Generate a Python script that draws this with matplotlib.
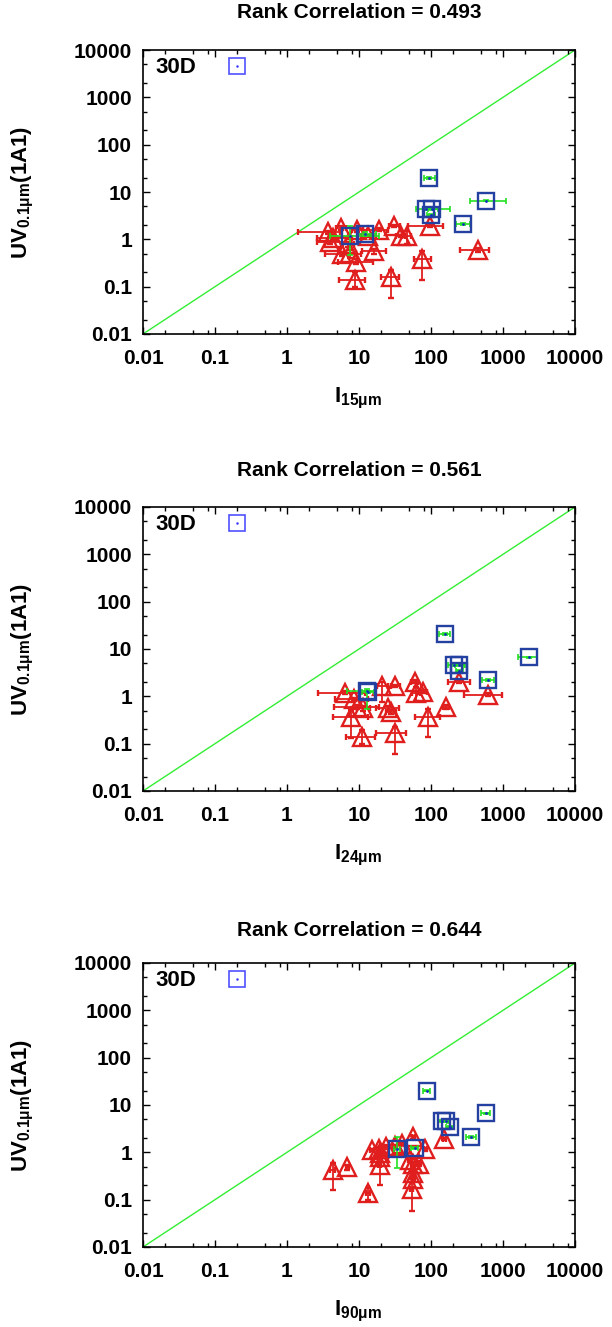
import matplotlib
matplotlib.use('Agg')
import matplotlib.pyplot as plt
import matplotlib.ticker as mticker
import numpy as np

plt.rcParams['font.family'] = ['Liberation Sans', 'DejaVu Sans']
plt.rcParams['font.weight'] = 'bold'
plt.rcParams['mathtext.fontset'] = 'custom'
plt.rcParams['mathtext.rm'] = 'Liberation Sans:bold'
plt.rcParams['mathtext.it'] = 'Liberation Sans:bold'
plt.rcParams['mathtext.bf'] = 'Liberation Sans:bold'
plt.rcParams['mathtext.default'] = 'rm'

# ---- panel 1 : I15um ----
p1_tri_x   = [3.75, 5.6, 9.5, 19, 31, 46, 38, 97, 446, 75, 27.6, 8.8, 16.2, 9.0, 5.75, 4.4, 7.5, 3.95, 7.1, 13.5]
p1_tri_y   = [1.4, 1.74, 1.6, 1.6, 1.95, 1.2, 1.17, 1.95, 0.6, 0.385, 0.16, 0.136, 0.56, 0.34, 0.5, 1.07, 0.51, 0.86, 0.79, 1.17]
p1_tri_xlo = [1.44, 4.8, 8.0, 11.5, 26, 40, 33, 48, 250, 58, 20, 5.2, 10.9, 5.1, 3.4, 2.6, 6.2, 2.6, 5.8, 10.5]
p1_tri_xhi = [5.4, 6.5, 11.5, 25.6, 37, 53, 44, 145, 630, 100, 36, 12, 23.7, 15.5, 10.5, 8.0, 9.0, 6.5, 8.5, 17]
p1_tri_ylo = [1.3, 1.6, 1.45, 1.5, 1.85, 0.8, 1.1, 1.85, 0.55, 0.136, 0.058, 0.1, 0.5, 0.3, 0.45, 1.0, 0.4, 0.8, 0.7, 1.1]
p1_tri_yhi = [1.5, 1.9, 1.75, 1.7, 2.05, 1.5, 1.25, 2.05, 0.65, 0.56, 0.23, 0.2, 0.62, 0.38, 0.55, 1.15, 0.6, 0.92, 0.88, 1.25]
p1_sq_x   = [95, 575, 84, 102, 100, 275, 7.5, 12.1]
p1_sq_y   = [19.7, 6.5, 4.4, 4.4, 3.3, 2.1, 1.2, 1.3]
p1_sq_xlo = [81, 347, 62, 90, 88, 224, 4.0, 9.5]
p1_sq_xhi = [114, 1100, 186, 125, 115, 347, 18.7, 17]
p1_sq_ylo = [19, 6.3, 4.2, 4.2, 3.1, 2.0, 0.475, 1.2]
p1_sq_yhi = [20.5, 6.7, 4.6, 4.6, 3.5, 2.2, 1.88, 1.4]

# ---- panel 2 : I24um ----
p2_tri_x   = [6.4, 8.4, 9.3, 7.7, 10.9, 11.5, 21, 32, 59, 62, 77, 25, 28, 32, 90, 160, 245, 612]
p2_tri_y   = [1.2, 0.86, 0.6, 0.37, 0.14, 0.56, 1.65, 1.65, 2.04, 1.17, 1.25, 0.56, 0.47, 0.165, 0.37, 0.6, 2.04, 1.07]
p2_tri_xlo = [2.7, 4.7, 4.5, 4.4, 6.5, 9.5, 18, 28, 52, 55, 68, 17.5, 24, 17.5, 59, 145, 170, 290]
p2_tri_xhi = [12, 13.5, 19, 13.5, 16.5, 14, 25, 37, 67, 70, 87, 36, 33, 45, 134, 178, 350, 960]
p2_tri_ylo = [1.1, 0.8, 0.55, 0.13, 0.1, 0.5, 0.75, 1.55, 1.9, 0.8, 1.15, 0.5, 0.43, 0.06, 0.14, 0.55, 1.9, 1.0]
p2_tri_yhi = [1.3, 0.92, 0.65, 0.52, 0.19, 0.62, 2.0, 1.75, 2.2, 1.55, 1.35, 0.62, 0.52, 0.23, 0.54, 0.66, 2.2, 1.15]
p2_sq_x   = [157, 2320, 210, 245, 245, 612, 13.0, 13.5]
p2_sq_y   = [20.4, 6.7, 4.6, 4.6, 3.4, 2.2, 1.3, 1.25]
p2_sq_xlo = [130, 1590, 170, 215, 220, 515, 6.9, 11]
p2_sq_xhi = [186, 3000, 300, 290, 280, 745, 17.5, 16]
p2_sq_ylo = [19.5, 6.5, 4.4, 4.4, 3.2, 2.1, 0.55, 1.2]
p2_sq_yhi = [21.3, 6.9, 4.8, 4.8, 3.6, 2.3, 1.4, 1.3]

# ---- panel 3 : I90um ----
p3_tri_x   = [4.3, 6.9, 13.2, 15, 19, 19.6, 19.3, 24, 32, 40, 57, 83, 153, 56, 69, 56, 57, 54, 19.6, 51]
p3_tri_y   = [0.42, 0.48, 0.136, 1.12, 1.2, 0.8, 0.54, 1.3, 1.37, 1.5, 2.07, 1.15, 1.9, 0.56, 0.58, 0.36, 0.28, 0.17, 0.95, 0.7]
p3_tri_xlo = [4.0, 6.5, 12.5, 14, 18, 18.5, 18.3, 22.5, 30, 38, 54, 79, 145, 53, 65, 53, 54, 51, 18.5, 48]
p3_tri_xhi = [4.6, 7.3, 14, 16, 20, 20.7, 20.3, 25.5, 34, 42, 60, 87, 161, 59, 73, 59, 60, 57, 20.7, 54]
p3_tri_ylo = [0.16, 0.42, 0.1, 1.05, 1.1, 0.72, 0.2, 1.2, 1.3, 1.4, 1.95, 1.05, 1.8, 0.5, 0.52, 0.3, 0.24, 0.058, 0.88, 0.62]
p3_tri_yhi = [0.6, 0.55, 0.18, 1.2, 1.3, 0.88, 0.8, 1.4, 1.45, 1.6, 2.2, 1.25, 2.0, 0.62, 0.65, 0.42, 0.33, 0.27, 1.02, 0.78]
p3_sq_x   = [87, 580, 144, 160, 184, 363, 34, 59]
p3_sq_y   = [20, 6.65, 4.6, 4.6, 3.37, 2.14, 1.2, 1.25]
p3_sq_xlo = [77, 500, 125, 140, 160, 310, 31, 52]
p3_sq_xhi = [98, 670, 165, 180, 210, 425, 37, 66]
p3_sq_ylo = [19.3, 6.5, 4.4, 4.4, 3.2, 2.05, 0.46, 1.2]
p3_sq_yhi = [20.8, 6.8, 4.8, 4.8, 3.55, 2.25, 2.1, 1.3]

titles = ['Rank Correlation = 0.493', 'Rank Correlation = 0.561', 'Rank Correlation = 0.644']
xlabels = [r'I$_{15\mu m}$', r'I$_{24\mu m}$', r'I$_{90\mu m}$']
ylabel = r'UV$_{0.1\mu m}$(1A1)'
key_label = '30D'
key_x = [0.2]
key_y = [4500]
diag = [0.01, 10000]
tick_vals = [0.01, 0.1, 1, 10, 100, 1000, 10000]
tick_text = ['0.01', '0.1', '1', '10', '100', '1000', '10000']

panels = [
    (p1_tri_x, p1_tri_y, p1_tri_xlo, p1_tri_xhi, p1_tri_ylo, p1_tri_yhi,
     p1_sq_x, p1_sq_y, p1_sq_xlo, p1_sq_xhi, p1_sq_ylo, p1_sq_yhi),
    (p2_tri_x, p2_tri_y, p2_tri_xlo, p2_tri_xhi, p2_tri_ylo, p2_tri_yhi,
     p2_sq_x, p2_sq_y, p2_sq_xlo, p2_sq_xhi, p2_sq_ylo, p2_sq_yhi),
    (p3_tri_x, p3_tri_y, p3_tri_xlo, p3_tri_xhi, p3_tri_ylo, p3_tri_yhi,
     p3_sq_x, p3_sq_y, p3_sq_xlo, p3_sq_xhi, p3_sq_ylo, p3_sq_yhi),
]

W, H = 612, 1327
fig = plt.figure(figsize=(W / 100, H / 100), dpi=100)

# axes boxes in pixels: left, right, top, bottom
boxes = [(143, 575, 50, 334), (143, 575, 507, 791), (143, 575, 963, 1247)]
title_y = [13, 471, 931]

red = '#e01e1e'
sq_col = '#2440a0'
grn = '#22e022'

for i, (box, data) in enumerate(zip(boxes, panels)):
    l, r, t, b = box
    ax = fig.add_axes([l / W, 1 - b / H, (r - l) / W, (b - t) / H])
    tx, ty, txlo, txhi, tylo, tyhi, sx, sy, sxlo, sxhi, sylo, syhi = [np.array(d, float) for d in data]

    ax.plot(diag, diag, color='#33ee33', lw=1, zorder=1)

    ax.errorbar(tx, ty, xerr=[tx - txlo, txhi - tx], yerr=[ty - tylo, tyhi - ty],
                fmt='^', ms=12.5, mfc='none', mec=red, mew=1.7, ecolor=red,
                elinewidth=1.3, capsize=2.4, capthick=1.3, zorder=2)
    ax.errorbar(sx, sy, xerr=[sx - sxlo, sxhi - sx], yerr=[sy - sylo, syhi - sy],
                fmt='none', ecolor=grn, elinewidth=1.2, capsize=2.2, capthick=1.2, zorder=3)
    ax.plot(sx, sy, 's', ms=11.5, mfc='none', mec=sq_col, mew=1.7, zorder=4)
    ax.plot(sx, sy, '.', ms=2, color='#1030c0', zorder=5)

    # key sample
    ax.plot(key_x, key_y, 's', ms=11.5, mfc='none', mec='#5050ff', mew=1.2, zorder=4)
    ax.plot(key_x, key_y, '.', ms=1.5, color='#3030ff', zorder=5)
    ax.text(0.028, 0.937, key_label, transform=ax.transAxes, fontsize=16,
            fontweight='bold', va='center', ha='left')

    ax.set_xscale('log')
    ax.set_yscale('log')
    ax.set_xlim(0.01, 10000)
    ax.set_ylim(0.01, 10000)
    ax.set_xticks(tick_vals)
    ax.set_xticklabels(tick_text)
    ax.set_yticks(tick_vals)
    ax.set_yticklabels(tick_text)
    ax.xaxis.set_minor_locator(mticker.LogLocator(base=10, subs=(2, 5, 8), numticks=20))
    ax.yaxis.set_minor_locator(mticker.LogLocator(base=10, subs=(2, 5), numticks=20))
    ax.xaxis.set_minor_formatter(mticker.NullFormatter())
    ax.yaxis.set_minor_formatter(mticker.NullFormatter())
    ax.tick_params(which='both', direction='in', top=True, right=True, labelsize=15)
    ax.tick_params(which='major', length=5, width=1)
    ax.tick_params(which='minor', length=3, width=1)
    ax.tick_params(axis='x', pad=11)
    ax.tick_params(axis='y', pad=8)
    for lab in ax.get_xticklabels() + ax.get_yticklabels():
        lab.set_fontweight('bold')
    for s in ax.spines.values():
        s.set_linewidth(1.2)

    ax.set_xlabel(xlabels[i], fontsize=16, fontweight='bold')
    ax.xaxis.set_label_coords((358 - l) / (r - l), -52 / (b - t))
    ax.set_ylabel(ylabel, fontsize=16, fontweight='bold')
    ax.yaxis.set_label_coords((36 - l) / (r - l), 0.5)

    fig.text((l + r) / 2 / W, 1 - title_y[i] / H, titles[i], ha='center', va='center',
             fontsize=15, fontweight='bold')

fig.savefig('out.png', dpi=100)
